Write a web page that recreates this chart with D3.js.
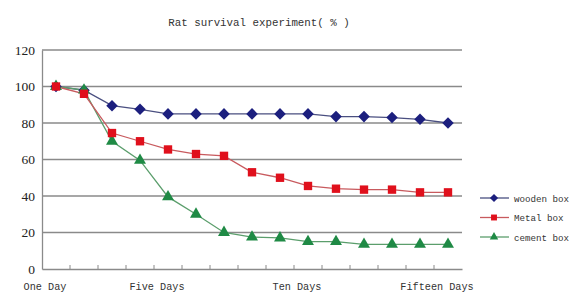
<!DOCTYPE html>
<html><head><meta charset="utf-8">
<script src="https://cdn.jsdelivr.net/npm/d3@7"></script>
<style>body{margin:0;background:#fff;} svg{display:block;}</style>
</head><body>
<script>
const days = d3.range(1, 16);
const dayLabels = {1: "One Day", 5: "Five Days", 10: "Ten Days", 15: "Fifteen Days"};
const wooden = [100, 98, 89.5, 87.5, 85, 85, 85, 85, 85, 85, 83.5, 83.5, 83, 82, 80];
const metal  = [100, 96, 74.5, 70, 65.5, 63, 62, 53, 50, 45.5, 44, 43.5, 43.5, 42, 42];
const cement = [100, 98, 70, 59.5, 39.5, 30, 20, 17.5, 17, 15, 15, 13.5, 13.5, 13.5, 13.5];
const yTicks = [0, 20, 40, 60, 80, 100, 120];
const seriesNames = ["wooden box", "Metal box", "cement box"];

const W = 573, H = 292;
const L = 42, R = 462, T = 50, B = 269;
const svg = d3.select("body").append("svg").attr("width", W).attr("height", H);

const x = d3.scaleBand().domain(days).range([L, R]);
const y = d3.scaleLinear().domain([0, 120]).range([B, T]);
const mono = "'Liberation Mono', monospace";

svg.append("text").attr("x", 259).attr("y", 26).attr("text-anchor", "middle")
  .attr("font-family", mono).attr("font-size", 10.8).attr("fill", "#333")
  .text("Rat survival experiment( % )");

// grid
svg.append("g").selectAll("line").data(yTicks.filter(d => d > 0)).join("line")
  .attr("x1", L).attr("x2", R).attr("y1", d => y(d)).attr("y2", d => y(d))
  .attr("stroke", "#8a8a8a").attr("stroke-width", 1.3);

// y axis
const ya = svg.append("g").attr("transform", `translate(${L},0)`)
  .call(d3.axisLeft(y).tickValues(yTicks).tickSize(0).tickPadding(7));
ya.select(".domain").attr("stroke", "#8a8a8a").attr("stroke-width", 1.3);
ya.selectAll("text").attr("font-family", "'Liberation Serif', serif").attr("font-size", 13.5).attr("fill", "#222");

// x axis
const xa = svg.append("g").attr("transform", `translate(0,${B})`)
  .call(d3.axisBottom(x).tickValues([]).tickSizeOuter(0));
xa.select(".domain").attr("stroke", "#8a8a8a").attr("stroke-width", 1.3);
svg.append("g").selectAll("line").data(days.slice(1)).join("line")
  .attr("x1", d => x(d)).attr("x2", d => x(d)).attr("y1", B).attr("y2", B - 4)
  .attr("stroke", "#8a8a8a").attr("stroke-width", 1);
svg.append("g").selectAll("text").data(Object.keys(dayLabels).map(Number)).join("text")
  .attr("x", d => x(d) + x.bandwidth() / 2 - 11).attr("y", 290)
  .attr("text-anchor", "middle").attr("font-family", mono).attr("font-size", 10.2).attr("fill", "#333")
  .text(d => dayLabels[d]);

const cx = d => x(d) + x.bandwidth() / 2;
const diamond = {draw(ctx, size) { const r = Math.sqrt(size) / 1.45; ctx.moveTo(0, -r); ctx.lineTo(r, 0); ctx.lineTo(0, r); ctx.lineTo(-r, 0); ctx.closePath(); }};
const series = [
  {name: seriesNames[0], vals: wooden, line: "#4a4f80", mark: "#1c1f7e", sym: diamond, size: 70},
  {name: seriesNames[1], vals: metal, line: "#c85a5e", mark: "#e0101c", sym: d3.symbolSquare, size: 70},
  {name: seriesNames[2], vals: cement, line: "#5b9e6c", mark: "#1f8a45", sym: d3.symbolTriangle, size: 62}
];
const lineGen = d3.line().x((d, i) => cx(days[i])).y(d => y(d));

const order = [0, 2, 1];
order.forEach(k => {
  const s = series[k];
  svg.append("path").attr("d", lineGen(s.vals)).attr("fill", "none")
    .attr("stroke", s.line).attr("stroke-width", 1.3);
});
order.forEach(k => {
  const s = series[k];
  svg.append("g").selectAll("path").data(s.vals).join("path")
    .attr("transform", (d, i) => `translate(${cx(days[i])},${y(d)})`)
    .attr("d", d3.symbol().type(s.sym).size(s.size)).attr("fill", s.mark);
});

// legend
const lg = svg.append("g");
series.forEach((s, i) => {
  const yy = 198 + i * 19.5;
  lg.append("line").attr("x1", 480).attr("x2", 509).attr("y1", yy).attr("y2", yy)
    .attr("stroke", s.line).attr("stroke-width", 1.3);
  lg.append("path").attr("transform", `translate(494,${yy})`)
    .attr("d", d3.symbol().type(s.sym).size(s.size * 0.5)).attr("fill", s.mark);
  lg.append("text").attr("x", 514).attr("y", yy + 3.5).attr("font-family", mono)
    .attr("font-size", 9.2).attr("fill", "#333").text(s.name);
});
</script>
</body></html>
